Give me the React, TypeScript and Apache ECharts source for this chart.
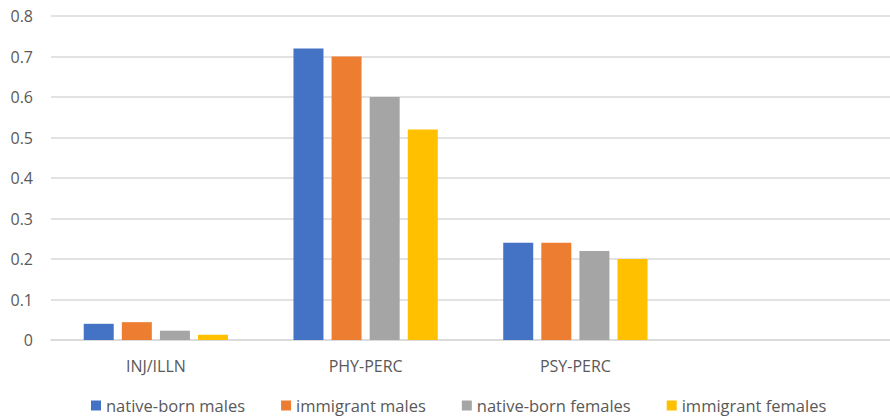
import React, { useEffect, useRef } from "react";
import * as echarts from "echarts";

const categories = ["INJ/ILLN", "PHY-PERC", "PSY-PERC", ""];
const seriesNames = ["native-born males", "immigrant males", "native-born females", "immigrant females"];
const nativeMales = [0.04, 0.72, 0.24, null];
const immigrantMales = [0.044, 0.70, 0.24, null];
const nativeFemales = [0.023, 0.60, 0.22, null];
const immigrantFemales = [0.013, 0.52, 0.20, null];
const colors = ["#4472C4", "#ED7D31", "#A5A5A5", "#FFC000"];
const FONT = "'Open Sans', sans-serif";

export default function App() {
  const ref = useRef<HTMLDivElement>(null);
  useEffect(() => {
    if (!ref.current) return;
    const chart = echarts.init(ref.current, null, { renderer: "svg" });
    const data = [nativeMales, immigrantMales, nativeFemales, immigrantFemales];
    chart.setOption({
      animation: false,
      textStyle: { fontFamily: FONT },
      grid: { left: 51, right: 0, top: 16, bottom: 78 },
      legend: {
        bottom: -1,
        left: 86,
        itemWidth: 10,
        itemHeight: 10,
        itemGap: 36,
        itemStyle: { borderWidth: 0 },
        icon: "rect",
        textStyle: { color: "#595959", fontSize: 16.5, fontFamily: FONT },
        data: seriesNames,
      },
      xAxis: {
        type: "category",
        data: categories,
        axisTick: { show: false },
        axisLine: { lineStyle: { color: "#D9D9D9", width: 1.5 } },
        axisLabel: { color: "#595959", fontSize: 16, margin: 18, fontFamily: FONT },
      },
      yAxis: {
        type: "value",
        min: 0,
        max: 0.8,
        interval: 0.1,
        axisLine: { show: false },
        axisTick: { show: false },
        splitLine: { lineStyle: { color: "#D9D9D9", width: 1.5 } },
        axisLabel: {
          color: "#595959",
          fontSize: 16,
          margin: 18,
          fontFamily: FONT,
          formatter: (v: number) => (v === 0 ? "0" : String(Math.round(v * 10) / 10)),
        },
      },
      series: seriesNames.map((name, i) => ({
        name,
        type: "bar",
        data: data[i],
        barWidth: 30,
        barGap: "27%",
        itemStyle: { color: colors[i] },
      })),
    });
    return () => chart.dispose();
  }, []);
  return <div ref={ref} style={{ position: "absolute", left: 0, top: 0, width: 890, height: 418 }} />;
}
